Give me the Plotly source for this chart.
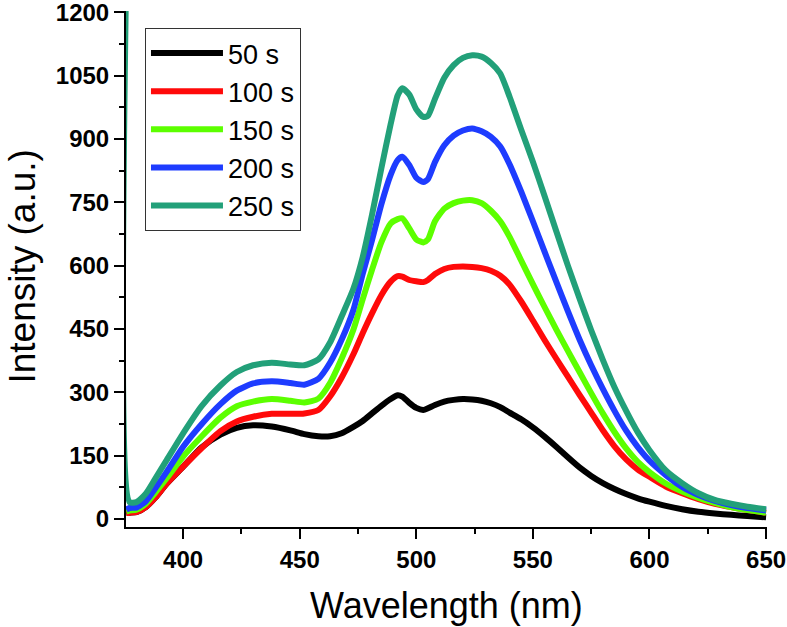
import plotly.graph_objects as go

wavelength = [375.6, 377, 380, 384, 388, 393, 400, 408, 416, 423, 430, 438, 446, 452, 458, 463,
              468, 473, 477, 481, 485, 489, 492, 494, 497, 500, 503, 505, 508, 512, 516, 520,
              524, 528, 532, 536, 540, 545, 550, 555, 560, 565, 570, 575, 580, 585, 590, 595,
              600, 607, 614, 621, 628, 635, 642, 650]

s50 = [14, 15, 16, 28, 50, 84, 124, 170, 200, 216, 222, 219, 210, 201, 196, 196,
       203, 218, 232, 250, 268, 284, 293, 290, 275, 263, 258, 262, 270, 278, 282, 284,
       283, 280, 274, 265, 252, 236, 217, 195, 171, 146, 122, 102, 85, 71, 59, 49,
       41, 31, 23, 17, 13, 10, 7, 4]

s100 = [14, 15, 16, 28, 50, 84, 124, 168, 208, 231, 242, 249, 249, 250, 258, 290,
        335, 390, 440, 487, 530, 562, 575, 574, 566, 563, 561, 566, 580, 592, 597, 598,
        597, 594, 588, 576, 555, 515, 470, 424, 380, 337, 294, 252, 210, 172, 141, 117,
        100, 77, 61, 47, 36, 28, 21, 15]

s150 = [18, 20, 22, 36, 62, 97, 148, 196, 240, 267, 278, 284, 280, 276, 285, 322,
        380, 448, 520, 590, 655, 700, 710, 712, 688, 662, 655, 662, 705, 735, 748, 754,
        755, 748, 730, 705, 668, 612, 556, 502, 449, 398, 348, 298, 250, 206, 167, 135,
        111, 84, 65, 50, 38, 28, 21, 15]

s200 = [22, 26, 27, 42, 72, 112, 171, 225, 272, 304, 321, 326, 322, 318, 332, 370,
        425, 495, 580, 660, 745, 815, 850, 858, 838, 808, 798, 805, 845, 885, 908, 920,
        925, 918, 905, 882, 840, 775, 705, 633, 562, 492, 425, 364, 308, 256, 209, 170,
        138, 104, 76, 57, 43, 33, 26, 20]

s250 = [1300, 40, 40, 60, 95, 140, 203, 268, 316, 348, 364, 370, 366, 364, 378, 418,
        480, 545, 620, 720, 830, 935, 1003, 1020, 1005, 970, 952, 955, 995, 1045, 1075, 1092,
        1098, 1095, 1080, 1055, 1000, 922, 846, 765, 682, 600, 522, 447, 377, 312, 256, 205,
        163, 115, 85, 61, 45, 36, 29, 23]

series = [("50 s", s50, "#000000"),
          ("100 s", s100, "#FF0A0A"),
          ("150 s", s150, "#5CFF00"),
          ("200 s", s200, "#1E3CFF"),
          ("250 s", s250, "#22A079")]

x_ticks = [400, 450, 500, 550, 600, 650]
x_minor = [425, 475, 525, 575, 625]
y_ticks = [0, 150, 300, 450, 600, 750, 900, 1050, 1200]
y_minor = [75, 225, 375, 525, 675, 825, 975, 1125]

FONT = "Arial, 'Liberation Sans', sans-serif"

fig = go.Figure()
for name, vals, color in series:
    fig.add_trace(go.Scatter(x=wavelength, y=vals, name=name, mode="lines",
                             line=dict(color=color, width=6, shape="spline", smoothing=0.6)))

axis_common = dict(showline=True, linecolor="black", linewidth=2, ticks="outside",
                   ticklen=10, tickwidth=2, tickcolor="black", showgrid=False,
                   zeroline=False, mirror=False, automargin=False,
                   ticklabeloverflow="allow",
                   tickfont=dict(family=FONT, size=24, color="black", weight="bold"))
minor_common = dict(ticks="outside", ticklen=5, tickwidth=2, tickcolor="black")

fig.update_layout(
    width=787, height=627,
    margin=dict(l=126, r=20, t=11, b=100),
    paper_bgcolor="white", plot_bgcolor="white",
    font=dict(family=FONT, color="black"),
    xaxis=dict(range=[375.5, 650.4], tickvals=x_ticks,
               minor=dict(tickvals=x_minor, **minor_common), **axis_common),
    yaxis=dict(range=[-19, 1203], tickvals=y_ticks,
               minor=dict(tickvals=y_minor, **minor_common), **axis_common),
    legend=dict(x=0.0296, y=0.967, xanchor="left", yanchor="top",
                bordercolor="#333333", borderwidth=1, bgcolor="white",
                font=dict(family=FONT, size=27, color="black"),
                itemwidth=72, tracegroupgap=0),
    showlegend=True,
    annotations=[
        dict(text="Wavelength (nm)", xref="paper", yref="paper", x=0.5, y=-0.152,
             xanchor="center", yanchor="middle", showarrow=False,
             font=dict(family=FONT, size=36, color="black")),
        dict(text="Intensity (a.u.)", xref="paper", yref="paper", x=-0.162, y=0.505,
             xanchor="center", yanchor="middle", showarrow=False, textangle=-90,
             font=dict(family=FONT, size=37, color="black")),
    ],
)

fig.write_html("out.html", post_script="document.body.style.margin='0';",
               config={"displayModeBar": False})
